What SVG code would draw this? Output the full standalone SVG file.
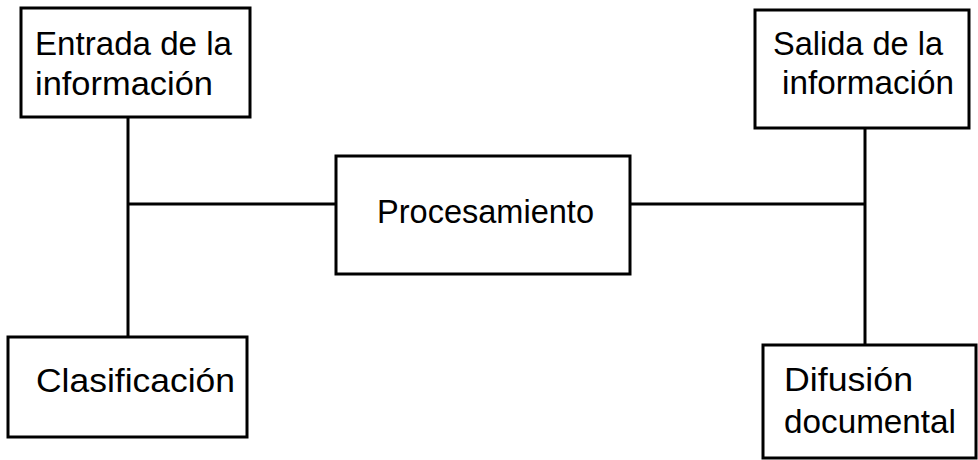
<svg xmlns="http://www.w3.org/2000/svg" width="978" height="460" viewBox="0 0 978 460">
<style>
.box{fill:#fff;stroke:#000;stroke-width:3}
.ln{fill:none;stroke:#000;stroke-width:3}
.t{font-family:"Liberation Sans",Arial,sans-serif;font-size:34px;fill:#000}
</style>
<rect width="978" height="460" fill="#fff"/>
<g id="connectors">
<line class="ln" x1="128" y1="117" x2="128" y2="337"/>
<line class="ln" x1="128" y1="204" x2="336" y2="204"/>
<line class="ln" x1="630" y1="204" x2="865" y2="204"/>
<line class="ln" x1="865" y1="128" x2="865" y2="345"/>
</g>
<g id="entrada">
<rect class="box" x="21" y="8" width="229" height="109"/>
<text class="t" x="35" y="55" textLength="197" lengthAdjust="spacingAndGlyphs">Entrada de la</text>
<text class="t" x="35" y="95" textLength="178" lengthAdjust="spacingAndGlyphs">información</text>
</g>
<g id="salida">
<rect class="box" x="755" y="10" width="214" height="118"/>
<text class="t" x="773" y="55" textLength="170" lengthAdjust="spacingAndGlyphs">Salida de la</text>
<text class="t" x="782" y="94" textLength="172" lengthAdjust="spacingAndGlyphs">información</text>
</g>
<g id="procesamiento">
<rect class="box" x="336" y="156" width="294" height="118"/>
<text class="t" x="377" y="223" textLength="217" lengthAdjust="spacingAndGlyphs">Procesamiento</text>
</g>
<g id="clasificacion">
<rect class="box" x="8" y="337" width="239" height="100"/>
<text class="t" x="36" y="392" textLength="199" lengthAdjust="spacingAndGlyphs">Clasificación</text>
</g>
<g id="difusion">
<rect class="box" x="763" y="345" width="213" height="113"/>
<text class="t" x="784" y="391" textLength="129" lengthAdjust="spacingAndGlyphs">Difusión</text>
<text class="t" x="784" y="433" textLength="172" lengthAdjust="spacingAndGlyphs">documental</text>
</g>
</svg>
